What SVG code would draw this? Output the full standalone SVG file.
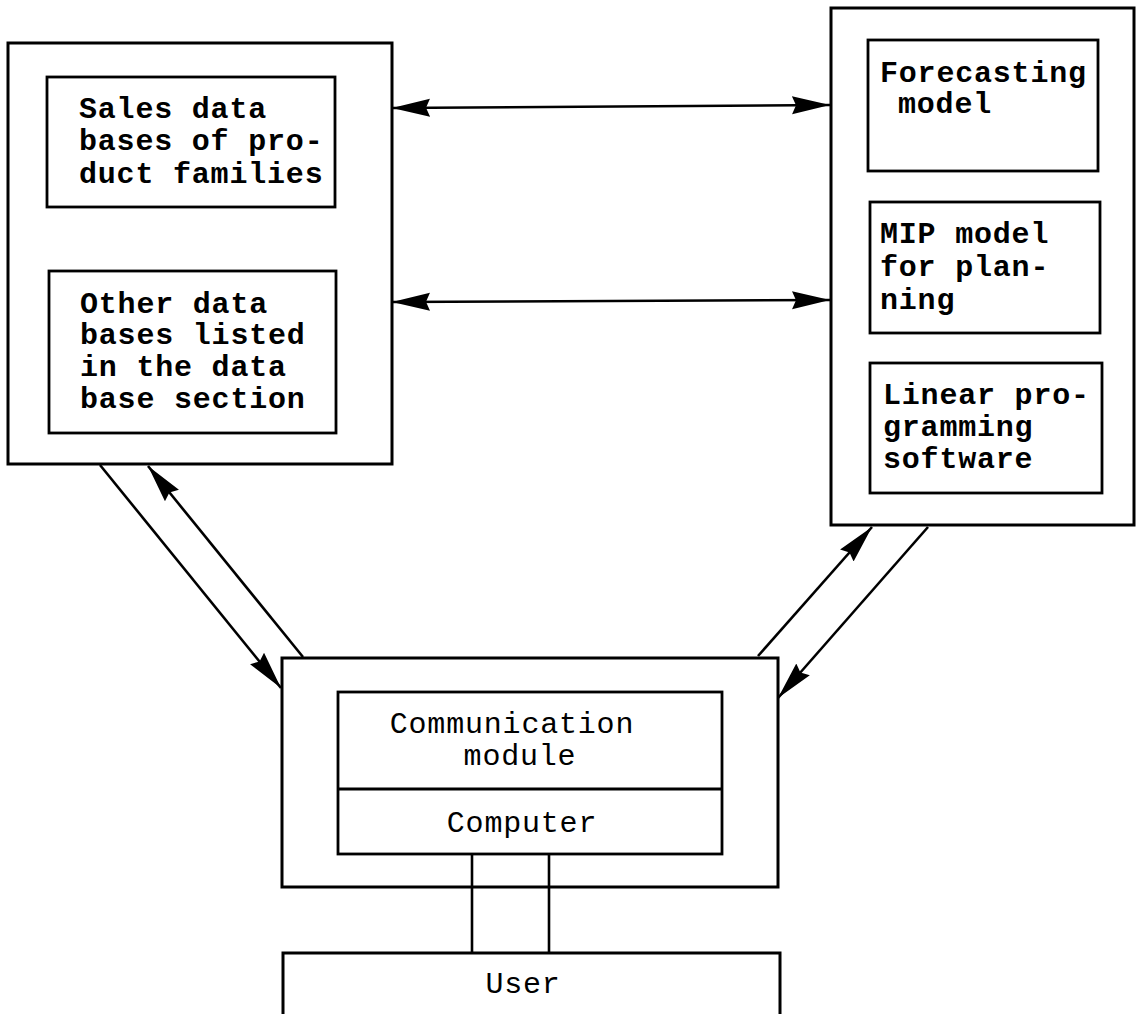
<svg xmlns="http://www.w3.org/2000/svg" width="1137" height="1014" viewBox="0 0 1137 1014">
<style>
  .box { fill: #fff; stroke: #000; stroke-width: 3; }
  .ibox { fill: none; stroke: #000; stroke-width: 2.8; }
  .t { font-family: "Liberation Mono", "DejaVu Sans Mono", monospace; font-size: 30px; font-weight: bold; letter-spacing: 0.8px; fill: #000; }
  .tc { text-anchor: middle; font-weight: normal; }
  .c { fill: none; stroke: #000; stroke-width: 2.6; }
</style>
<defs>
  <marker id="ah" markerUnits="userSpaceOnUse" markerWidth="40" markerHeight="20" refX="38" refY="10" orient="auto-start-reverse" viewBox="0 0 40 20">
    <path d="M0,1 L38,10 L0,19 L4,10 z" fill="#000"/>
  </marker>
</defs>
<rect width="1137" height="1014" fill="#fff"/>

<g id="databases">
  <rect class="box" x="8" y="43" width="384" height="421"/>
  <g id="sales">
    <rect class="ibox" x="47" y="77" width="288" height="130"/>
    <text class="t" x="79" y="118">Sales data</text>
    <text class="t" x="79" y="150">bases of pro-</text>
    <text class="t" x="79" y="183">duct families</text>
  </g>
  <g id="other">
    <rect class="ibox" x="49" y="271" width="287" height="162"/>
    <text class="t" x="80" y="313">Other data</text>
    <text class="t" x="80" y="344">bases listed</text>
    <text class="t" x="80" y="376">in the data</text>
    <text class="t" x="80" y="408">base section</text>
  </g>
</g>

<g id="models">
  <rect class="box" x="831" y="8" width="303" height="517"/>
  <g id="forecasting">
    <rect class="ibox" x="868" y="40" width="230" height="131"/>
    <text class="t" x="880" y="82">Forecasting</text>
    <text class="t" x="898" y="113">model</text>
  </g>
  <g id="mip">
    <rect class="ibox" x="870" y="202" width="230" height="131"/>
    <text class="t" x="880" y="243">MIP model</text>
    <text class="t" x="880" y="276">for plan-</text>
    <text class="t" x="880" y="309">ning</text>
  </g>
  <g id="lp">
    <rect class="ibox" x="870" y="363" width="232" height="130"/>
    <text class="t" x="883" y="404">Linear pro-</text>
    <text class="t" x="883" y="436">gramming</text>
    <text class="t" x="883" y="468">software</text>
  </g>
</g>

<g id="communication">
  <rect class="box" x="282" y="658" width="496" height="229"/>
  <rect class="ibox" x="338" y="692" width="384" height="162"/>
  <line class="ibox" x1="338" y1="789" x2="722" y2="789"/>
  <text class="t tc" x="512" y="733">Communication</text>
  <text class="t tc" x="520" y="765">module</text>
  <text class="t tc" x="522" y="832">Computer</text>
</g>

<g id="user">
  <rect class="box" x="283" y="953" width="497" height="80"/>
  <text class="t tc" x="523" y="993">User</text>
</g>

<g id="connectors">
  <line class="c" x1="392" y1="108" x2="830" y2="105" marker-start="url(#ah)" marker-end="url(#ah)"/>
  <line class="c" x1="392" y1="302" x2="830" y2="300" marker-start="url(#ah)" marker-end="url(#ah)"/>
  <line class="c" x1="100" y1="465" x2="281" y2="688" marker-end="url(#ah)"/>
  <line class="c" x1="303" y1="657" x2="148" y2="466" marker-end="url(#ah)"/>
  <line class="c" x1="758" y1="656" x2="872" y2="527" marker-end="url(#ah)"/>
  <line class="c" x1="928" y1="527" x2="778" y2="698" marker-end="url(#ah)"/>
  <line class="c" x1="472" y1="854" x2="472" y2="953"/>
  <line class="c" x1="549" y1="854" x2="549" y2="953"/>
</g>
</svg>
